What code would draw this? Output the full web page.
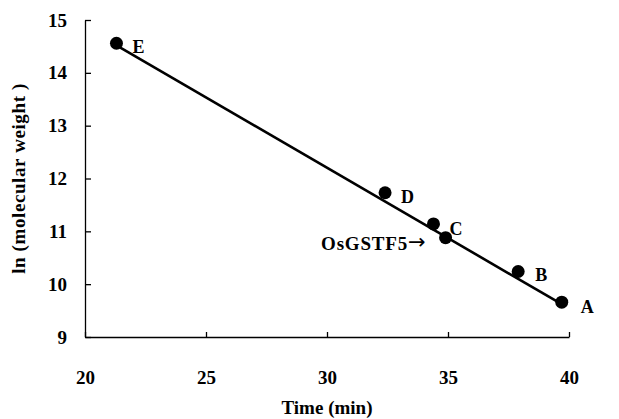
<!DOCTYPE html>
<html>
<head>
<meta charset="utf-8">
<script src="https://cdn.jsdelivr.net/npm/d3@7"></script>
<style>
  body { margin: 0; background: #fff; }
  text { font-family: "Liberation Serif", "Times New Roman", serif; font-weight: bold; fill: #000; }
  .axis path, .axis line { stroke: #000; stroke-width: 1.3; }
</style>
</head>
<body>
<main></main>
<script>
// standards and sample, retention time vs ln(MW)
const labels = ["E", "D", "C", "OsGSTF5", "B", "A"]
const times = [21.3, 32.4, 34.4, 34.9, 37.9, 39.7]
const lnMW = [14.56, 11.73, 11.14, 10.88, 10.24, 9.66]

// fitted line end points
const lineTimes = [21.3, 39.7]
const lineLnMW = [14.52, 9.62]

const xTicks = [20, 25, 30, 35, 40]
const yTicks = [9, 10, 11, 12, 13, 14, 15]

const w = 619
const h = 419
const margin = { left: 85, right: 50, top: 20, bottom: 82 }

const xScale = d3
  .scaleLinear()
  .domain([20, 40])
  .range([margin.left, w - margin.right])

const yScale = d3
  .scaleLinear()
  .domain([9, 15])
  .range([h - margin.bottom, margin.top])

const svg = d3
  .select("main")
  .append("svg")
  .attr("width", w)
  .attr("height", h)

// axes
const xAxis = d3
  .axisBottom(xScale)
  .tickValues(xTicks)
  .tickFormat(d3.format("d"))
  .tickSizeInner(-5)
  .tickSizeOuter(0)
  .tickPadding(34)

const yAxis = d3
  .axisLeft(yScale)
  .tickValues(yTicks)
  .tickFormat(d3.format("d"))
  .tickSizeInner(-6)
  .tickSizeOuter(0)
  .tickPadding(18)

svg
  .append("g")
  .attr("class", "axis")
  .attr("transform", `translate(0, ${h - margin.bottom})`)
  .call(xAxis)
  .selectAll("text")
  .style("font-size", "19px")

svg
  .append("g")
  .attr("class", "axis")
  .attr("transform", `translate(${margin.left}, 0)`)
  .call(yAxis)
  .selectAll("text")
  .style("font-size", "19px")

// regression line
svg
  .append("line")
  .attr("x1", xScale(lineTimes[0]))
  .attr("y1", yScale(lineLnMW[0]))
  .attr("x2", xScale(lineTimes[1]))
  .attr("y2", yScale(lineLnMW[1]))
  .attr("stroke", "#000")
  .attr("stroke-width", 2.6)

const points = labels.map((l, i) => ({ label: l, t: times[i], v: lnMW[i] }))

svg
  .selectAll("circle")
  .data(points)
  .enter()
  .append("circle")
  .attr("cx", (d) => xScale(d.t))
  .attr("cy", (d) => yScale(d.v))
  .attr("r", 6.5)
  .attr("fill", "#000")

// point labels
const labelOffsets = {
  E: [16, 4],
  D: [16, 4],
  C: [16, 5],
  B: [17, 4],
  A: [19, 5],
}

const sample = points.filter((d) => d.label === "OsGSTF5")
const standards = points.filter((d) => d.label !== "OsGSTF5")

svg
  .selectAll(".pt-label")
  .data(standards)
  .enter()
  .append("text")
  .attr("class", "pt-label")
  .style("font-size", "18px")
  .attr("x", (d) => xScale(d.t) + labelOffsets[d.label][0])
  .attr("y", (d) => yScale(d.v) + labelOffsets[d.label][1] + 6)
  .text((d) => d.label)

const sampleLabel = svg
  .selectAll(".sample-label")
  .data(sample)
  .enter()
  .append("text")
  .attr("class", "sample-label")
  .style("font-size", "19px")
  .attr("text-anchor", "end")
  .attr("x", (d) => xScale(d.t) - 20)
  .attr("y", (d) => yScale(d.v) + 12)

sampleLabel
  .append("tspan")
  .style("letter-spacing", "0.8px")
  .text((d) => d.label)
sampleLabel
  .append("tspan")
  .style("font-family", "DejaVu Sans")
  .style("font-weight", "normal")
  .style("font-size", "21px")
  .attr("dy", -1)
  .text("\u2192")

// axis titles
svg
  .append("text")
  .text("Time (min)")
  .attr("x", (margin.left + w - margin.right) / 2)
  .attr("y", h - 5)
  .attr("text-anchor", "middle")
  .style("font-size", "19px")

svg
  .append("text")
  .text("ln (molecular weight )")
  .attr("transform", `translate(25, ${(margin.top + h - margin.bottom) / 2}) rotate(-90)`)
  .attr("text-anchor", "middle")
  .style("font-size", "19px")
  .style("letter-spacing", "0.6px")
</script>
</body>
</html>
